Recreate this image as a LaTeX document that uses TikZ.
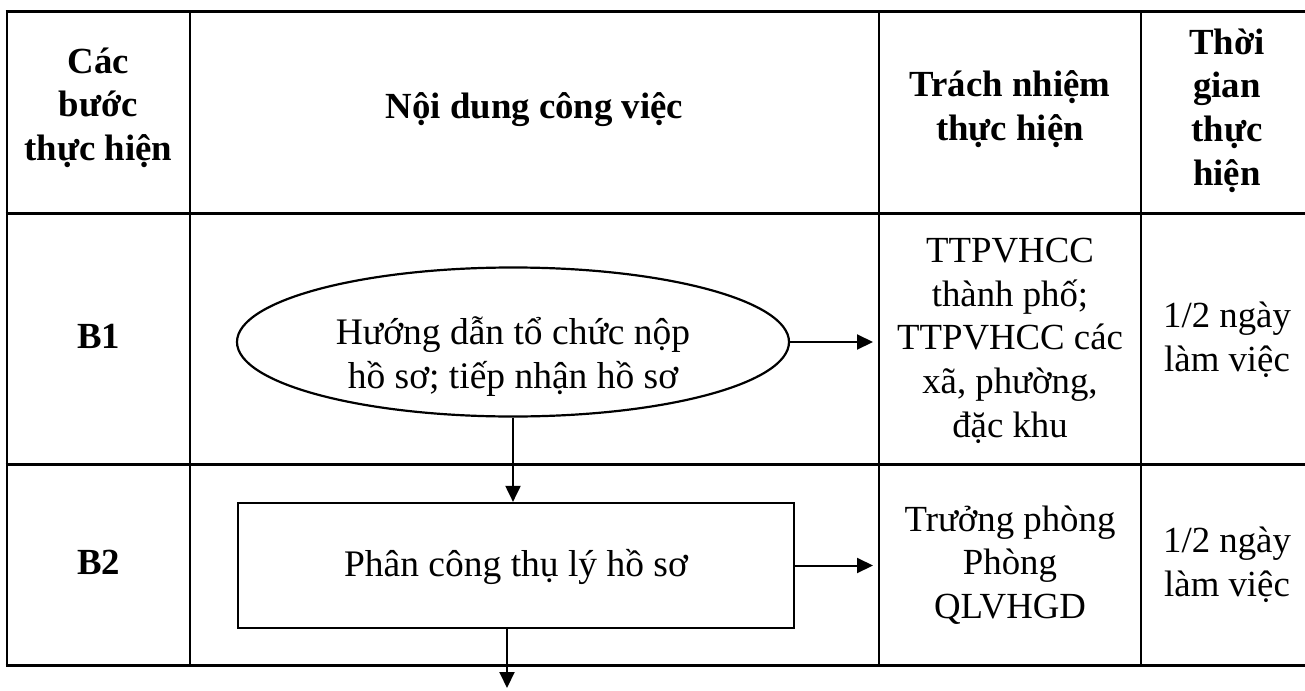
\documentclass[tikz,border=0pt]{standalone}
\usepackage{fontspec}
\setmainfont{Liberation Serif}
\usetikzlibrary{arrows.meta,shapes.geometric}
\begin{document}
\begin{tikzpicture}[x=1pt,y=-1pt,
  hline/.style={line width=3pt},
  vline/.style={line width=2.2pt},
  txt/.style={align=center,inner sep=0pt,font=\fontsize{36.8}{43.7}\selectfont},
  flowtxt/.style={align=center,inner sep=0pt,font=\fontsize{37.5}{44}\selectfont},
  hdr/.style={align=center,inner sep=0pt,font=\fontsize{36.8}{43.7}\selectfont\bfseries},
  shp/.style={draw,line width=2.2pt},
  conn/.style={line width=2pt,-{Triangle[length=16pt,width=15pt]}}]
\useasboundingbox (0,0) rectangle (1305,690);
% table grid
\foreach \yy in {12,213,464,665} \draw[hline] (5.5,\yy) -- (1305,\yy);
\foreach \xx in {7,190,879,1141} \draw[vline] (\xx,12) -- (\xx,665);
% header
\node[hdr] (h1) at (98.5,108) {\strut Các\\bước\\thực hiện\strut};
\node[hdr] (h2) at (534.5,110) {\strut Nội dung công việc\strut};
\node[hdr] (h3) at (1010,110) {\strut Trách nhiệm\\thực hiện\strut};
\node[hdr] (h4) at (1227,111) {\strut Thời\\gian\\thực\\hiện\strut};
% steps
\node[hdr] (b1) at (98.5,340) {\strut B1\strut};
\node[hdr] (b2) at (98.5,566) {\strut B2\strut};
% flow shapes
\node[shp,ellipse,minimum width=552pt,minimum height=149pt,inner sep=0pt] (e1) at (513,342) {};
\node[flowtxt] (e1t) at (513,358) {\strut Hướng dẫn tổ chức nộp\\hồ sơ; tiếp nhận hồ sơ\strut};
\node[shp,rectangle,minimum width=556pt,minimum height=125pt,inner sep=0pt] (r2) at (516,565.5) {};
\node[flowtxt] (r2t) at (516,568) {\strut Phân công thụ lý hồ sơ\strut};
% responsibility and time
\node[txt] (c31) at (1010,341) {\strut TTPVHCC\\thành phố;\\TTPVHCC các\\xã, phường,\\đặc khu\strut};
\node[txt] (c41) at (1227,341) {\strut 1/2 ngày\\làm việc\strut};
\node[txt] (c32) at (1010,566) {\strut Trưởng phòng\\Phòng\\QLVHGD\strut};
\node[txt] (c42) at (1227,566) {\strut 1/2 ngày\\làm việc\strut};
% connectors
\coordinate (t1) at (873,340);
\coordinate (t3) at (507,688);
\draw[conn] (e1.east) -- (e1.east -| t1);
\draw[conn] (e1.south) -- (e1.south |- r2.north);
\draw[conn] (r2.east) -- (r2.east -| t1);
\draw[conn] (r2.south -| t3) -- (t3);
\end{tikzpicture}
\end{document}
